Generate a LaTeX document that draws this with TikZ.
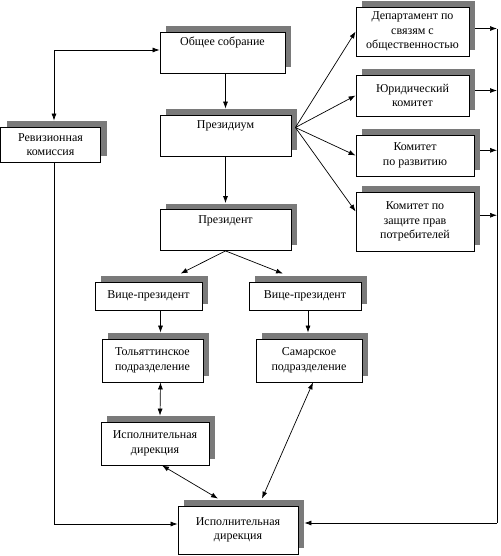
\documentclass[tikz,border=0pt]{standalone}
\usepackage{fontspec}
\setmainfont{Liberation Serif}
\usetikzlibrary{shadows,arrows.meta}
\tikzstyle{unit}=[draw, fill=white, line width=0.8pt, align=center, inner sep=0pt,
  font=\fontsize{12}{14.5}\selectfont,
  general shadow={fill=black!52, shadow xshift=6pt, shadow yshift=6pt}]
\tikzstyle{toptext}=[text height=14pt, text depth=27pt]
\tikzstyle{link}=[-{Latex[length=7pt,width=5pt]}, line width=0.7pt]
\tikzstyle{both}=[{Latex[length=7pt,width=5pt]}-{Latex[length=7pt,width=5pt]}, line width=0.7pt]

\begin{document}
\begin{tikzpicture}[x=1pt, y=-1pt]
    \useasboundingbox (0,0) rectangle (500,556);
    % central line
    \node[unit, toptext, minimum width=125pt] (sobr) at (222.5,52.5) {Общее собрание};
    \node[unit, toptext, minimum width=131pt] (prez) at (225.5,135.5) {Президиум};
    \node[unit, toptext, minimum width=131pt] (presid) at (225.5,230) {Президент};
    \node[unit, minimum width=100pt, minimum height=35pt] (revk) at (50.5,144.5) {Ревизионная\\комиссия};
    % committees
    \node[unit, minimum width=113pt, minimum height=49pt] (dep) at (412.5,31.5) {Департамент по\\связям с\\общественностью};
    \node[unit, minimum width=113pt, minimum height=41pt] (jur) at (412.5,95.5) {Юридический\\комитет};
    \node[unit, minimum width=118pt, minimum height=41pt] (kom) at (415,155.5) {Комитет\\по развитию};
    \node[unit, minimum width=118pt, minimum height=59pt] (zash) at (415,221.5) {Комитет по\\защите прав\\потребителей};
    % branches
    \node[unit, minimum width=107pt, minimum height=28pt] (vpa) at (148.5,296) {Вице-президент};
    \node[unit, minimum width=112pt, minimum height=28pt] (vpb) at (305,296) {Вице-президент};
    \node[unit, minimum width=101pt, minimum height=43pt] (tol) at (152.5,360.5) {Тольяттинское\\подразделение};
    \node[unit, minimum width=106pt, minimum height=43pt] (sam) at (309,360.5) {Самарское\\подразделение};
    \node[unit, minimum width=108pt, minimum height=43pt] (ispa) at (155,443.5) {Исполнительная\\дирекция};
    \node[unit, minimum width=120pt, minimum height=48pt] (ispb) at (238,530) {Исполнительная\\дирекция};
    \coordinate (fan) at ([xshift=4pt,yshift=8pt]prez.east);
    \coordinate (bus) at (497,29);
    \coordinate (busend) at (497,523);

    \draw[both] ([xshift=3.5pt,yshift=6pt]revk.north) |- ([yshift=2.5pt]sobr.west);
    \draw[link] (prez.north |- sobr.south) to ([yshift=6pt]prez.north);
    \draw[link] (prez.south) to ([yshift=6pt]presid.north);
    \draw[link] (fan) to (dep.west);
    \draw[link] (fan) to (jur.west);
    \draw[link] (fan) to (kom.west);
    \draw[link] (fan) to ([yshift=10pt]zash.west);
    \draw[link] ([xshift=6pt]dep.3) to (dep.3 -| bus);
    \draw[link] ([xshift=6pt]jur.5) to (jur.5 -| bus);
    \draw[link] ([xshift=6pt]kom.5) to (kom.5 -| bus);
    \draw[link] ([xshift=6pt]zash.6) to (zash.6 -| bus);
    \draw[line width=0.7pt] (bus) -- (busend);
    \draw[link] (busend) to ([xshift=6pt,yshift=7pt]ispb.east);
    \draw[link] ([xshift=3.5pt]revk.south) |- ([yshift=6pt]ispb.west);
    \draw[link] (presid.south) to ([xshift=32pt,yshift=8pt]vpa.north);
    \draw[link] (presid.south) to ([xshift=-22pt,yshift=8pt]vpb.north);
    \draw[link] ([xshift=12pt]vpa.south) to ([xshift=8pt,yshift=6pt]tol.north);
    \draw[link] ([xshift=3pt]vpb.south) to ([xshift=-1pt,yshift=6pt]sam.north);
    \draw[both] ([xshift=8pt]tol.south) to ([xshift=5pt,yshift=6pt]ispa.north);
    \draw[both] ([xshift=4pt]sam.south) to ([xshift=24pt,yshift=7pt]ispb.north);
    \draw[both] ([xshift=7pt]ispa.south) to ([xshift=-20pt,yshift=7pt]ispb.north);
\end{tikzpicture}
\end{document}
